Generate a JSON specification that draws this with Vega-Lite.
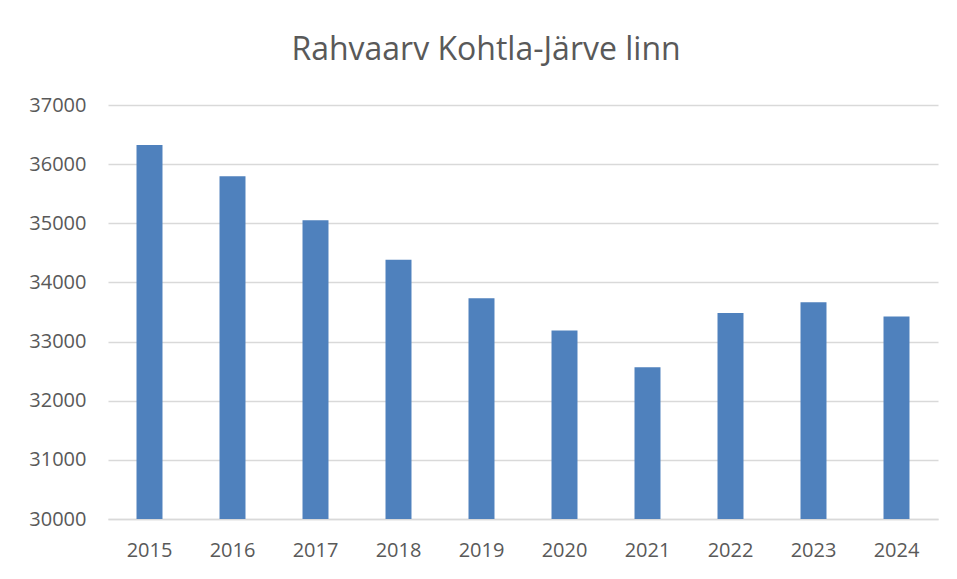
{
  "$schema": "https://vega.github.io/schema/vega-lite/v6.json",
  "width": 830,
  "height": 414,
  "autosize": {"type": "none"},
  "padding": {"left": 108, "top": 105, "right": 19, "bottom": 60},
  "background": "white",
  "title": {
    "text": "Rahvaarv Kohtla-Järve linn",
    "font": "Open Sans",
    "fontSize": 32,
    "fontWeight": "normal",
    "color": "#595959",
    "anchor": "middle",
    "frame": "group",
    "dx": -37,
    "offset": 28
  },
  "data": {
    "values": [
      {"year": "2015", "population": 36323},
      {"year": "2016", "population": 35794},
      {"year": "2017", "population": 35050},
      {"year": "2018", "population": 34385},
      {"year": "2019", "population": 33733},
      {"year": "2020", "population": 33186},
      {"year": "2021", "population": 32567},
      {"year": "2022", "population": 33485},
      {"year": "2023", "population": 33665},
      {"year": "2024", "population": 33422}
    ]
  },
  "mark": {"type": "bar", "color": "#4F81BD", "clip": true},
  "encoding": {
    "x": {
      "field": "year",
      "type": "ordinal",
      "scale": {"paddingInner": 0.687, "paddingOuter": 0.3435},
      "axis": {
        "title": null,
        "labelAngle": 0,
        "labelFont": "Open Sans",
        "labelFontSize": 20,
        "labelColor": "#595959",
        "labelPadding": 21,
        "ticks": false,
        "domainColor": "#d9d9d9",
        "domainWidth": 1.5
      }
    },
    "y": {
      "field": "population",
      "type": "quantitative",
      "scale": {"domain": [30000, 37000], "zero": false, "nice": false},
      "axis": {
        "title": null,
        "values": [30000, 31000, 32000, 33000, 34000, 35000, 36000, 37000],
        "format": "d",
        "labelFont": "Open Sans",
        "labelFontSize": 20,
        "labelColor": "#595959",
        "labelPadding": 22,
        "ticks": false,
        "domain": false,
        "gridColor": "#d9d9d9",
        "gridWidth": 1.5
      }
    },
    "y2": {"datum": 30000}
  },
  "config": {
    "view": {"stroke": null}
  }
}
